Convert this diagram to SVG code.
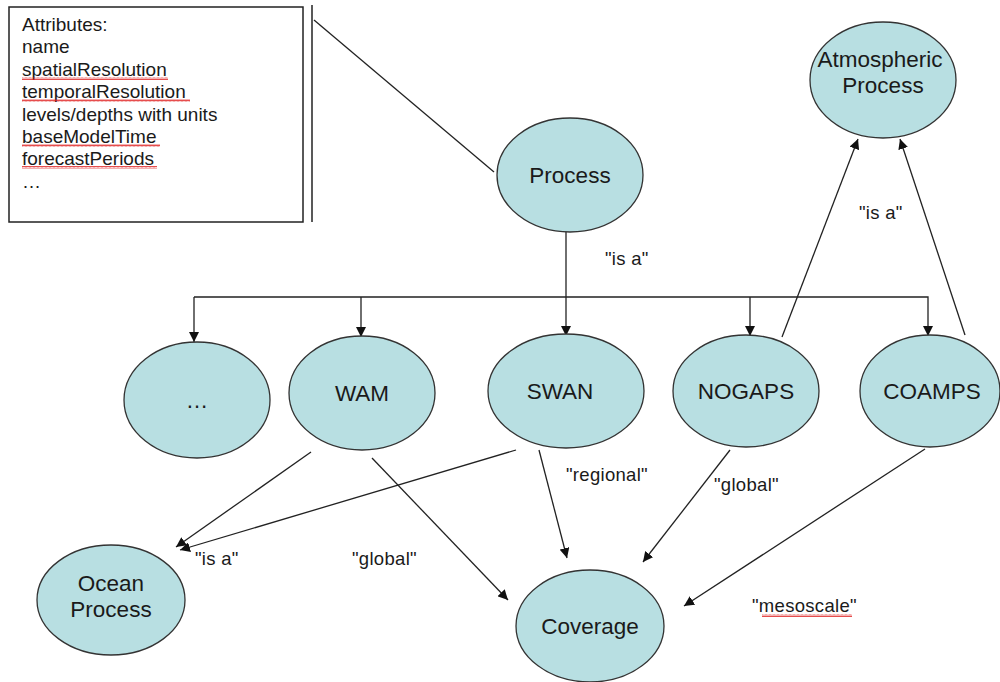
<svg xmlns="http://www.w3.org/2000/svg" width="1000" height="682" viewBox="0 0 1000 682">
<style>
.node{fill:#b8dfe2;stroke:#333;stroke-width:1.3}
.t{font-family:"Liberation Sans",Arial,sans-serif;font-size:22.5px;fill:#1a1a1a;text-anchor:middle}
.a{font-family:"Liberation Sans",Arial,sans-serif;font-size:19px;fill:#1a1a1a}
.l{font-family:"Liberation Sans",Arial,sans-serif;font-size:18.5px;fill:#1a1a1a;letter-spacing:0.3px}
.c{fill:none;stroke:#222;stroke-width:1.3}
.sq{fill:url(#wave)}
</style>
<defs>
<marker id="ah" viewBox="0 0 10 10" refX="10" refY="5" markerWidth="10" markerHeight="10" markerUnits="userSpaceOnUse" orient="auto">
<path d="M0,0 L10,5 L0,10 z" fill="#111"/>
</marker>
<pattern id="wave" width="4" height="3" patternUnits="userSpaceOnUse">
<path d="M0,2.5 L1,0.5 L2,2.5 L3,0.5 L4,2.5" fill="none" stroke="#e02020" stroke-width="0.8"/>
</pattern>
</defs>
<rect width="1000" height="682" fill="#fff"/>
<g id="attributes">
<rect x="9" y="7" width="294" height="215" fill="#fff" stroke="#222" stroke-width="1.5"/>
<line x1="312" y1="5" x2="312" y2="222" stroke="#222" stroke-width="1.5"/>
<text class="a" x="22" y="31">Attributes:</text>
<text class="a" x="22" y="53">name</text>
<text class="a" x="22" y="76">spatialResolution</text>
<text class="a" x="22" y="98">temporalResolution</text>
<text class="a" x="22" y="121">levels/depths with units</text>
<text class="a" x="22" y="143">baseModelTime</text>
<text class="a" x="22" y="165">forecastPeriods</text>
<text class="a" x="22" y="188">…</text>
<rect class="sq" x="22" y="77" width="146" height="3"/>
<rect class="sq" x="22" y="99" width="168" height="3"/>
<rect class="sq" x="22" y="144" width="138" height="3"/>
<rect class="sq" x="22" y="166" width="135" height="3"/>
</g>
<g id="connectors">
<line class="c" x1="314" y1="20" x2="494" y2="172"/>
<line class="c" x1="566" y1="231" x2="566" y2="336" marker-end="url(#ah)"/>
<polyline class="c" points="194,297 928,297 928,336" marker-end="url(#ah)"/>
<line class="c" x1="194" y1="297" x2="194" y2="342" marker-end="url(#ah)"/>
<line class="c" x1="361" y1="297" x2="361" y2="337" marker-end="url(#ah)"/>
<line class="c" x1="750" y1="297" x2="750" y2="336" marker-end="url(#ah)"/>
<line class="c" x1="782" y1="337" x2="858" y2="139" marker-end="url(#ah)"/>
<line class="c" x1="965" y1="335" x2="900" y2="139" marker-end="url(#ah)"/>
<line class="c" x1="311" y1="452" x2="176" y2="547" marker-end="url(#ah)"/>
<line class="c" x1="516" y1="450" x2="180" y2="550" marker-end="url(#ah)"/>
<line class="c" x1="372" y1="458" x2="508" y2="600" marker-end="url(#ah)"/>
<line class="c" x1="539" y1="450" x2="567" y2="558" marker-end="url(#ah)"/>
<line class="c" x1="730" y1="450" x2="643" y2="562" marker-end="url(#ah)"/>
<line class="c" x1="925" y1="449" x2="684" y2="606" marker-end="url(#ah)"/>
<text class="l" x="605" y="265">"is a"</text>
<text class="l" x="859" y="219">"is a"</text>
<text class="l" x="195" y="565">"is a"</text>
<text class="l" x="352" y="565">"global"</text>
<text class="l" x="566" y="481">"regional"</text>
<text class="l" x="714" y="491">"global"</text>
<text class="l" x="752" y="612">"mesoscale"</text>
<rect class="sq" x="762" y="614" width="90" height="3"/>
</g>
<g id="process"><ellipse class="node" cx="570" cy="175" rx="73" ry="57"/><text class="t" x="570" y="183">Process</text></g>
<g id="atmospheric"><ellipse class="node" cx="883" cy="80" rx="73" ry="58"/><text class="t" x="880" y="67">Atmospheric</text><text class="t" x="883" y="93">Process</text></g>
<g id="dots"><ellipse class="node" cx="197" cy="400" rx="73" ry="58"/><text class="t" x="197" y="408">…</text></g>
<g id="wam"><ellipse class="node" cx="362" cy="393" rx="73" ry="57"/><text class="t" x="362" y="401">WAM</text></g>
<g id="swan"><ellipse class="node" cx="566" cy="391" rx="78" ry="57"/><text class="t" x="560" y="399">SWAN</text></g>
<g id="nogaps"><ellipse class="node" cx="746" cy="391" rx="73" ry="56"/><text class="t" x="746" y="399">NOGAPS</text></g>
<g id="coamps"><ellipse class="node" cx="930" cy="391" rx="70" ry="56"/><text class="t" x="932" y="399">COAMPS</text></g>
<g id="ocean"><ellipse class="node" cx="111" cy="600" rx="74" ry="55"/><text class="t" x="111" y="591">Ocean</text><text class="t" x="111" y="617">Process</text></g>
<g id="coverage"><ellipse class="node" cx="590" cy="626" rx="74" ry="56"/><text class="t" x="590" y="634">Coverage</text></g>
</svg>
